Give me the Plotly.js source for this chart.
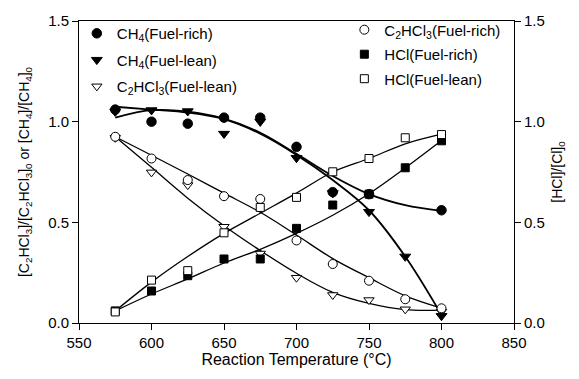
<!DOCTYPE html>
<html><head><meta charset="utf-8">
<script src="https://cdn.plot.ly/plotly-3.0.1.min.js"></script>
<style>html,body{margin:0;padding:0;background:#fff}</style>
</head><body><div id="chart" style="width:579px;height:379px"></div>
<script>
// Measured points
const temps = [575, 600, 625, 650, 675, 700, 725, 750, 775, 800];
const ch4Rich = [1.06, 1.00, 0.99, 1.02, 1.02, 0.875, 0.65, 0.64, null, 0.56];
const ch4Lean = [1.05, 1.057, 1.052, 0.94, 1.0, 0.82, 0.645, 0.552, 0.33, 0.035];
const c2Rich = [0.925, 0.817, 0.71, 0.63, 0.616, 0.41, 0.293, 0.21, 0.118, 0.073];
const c2Lean = [0.92, 0.748, 0.685, 0.478, 0.345, 0.225, 0.139, 0.114, 0.068, 0.056];
const hclRich = [0.06, 0.159, 0.235, 0.318, 0.318, 0.47, 0.586, 0.64, 0.771, 0.905];
const hclLean = [0.055, 0.213, 0.26, 0.448, 0.574, 0.624, 0.751, 0.817, 0.92, 0.936];

// Fitted curves
const fitTemps = [575, 600, 625, 650, 675, 700, 725, 750, 775, 800];
const ch4RichFit = [1.02, 1.057, 1.05, 1.015, 0.945, 0.84, 0.73, 0.64, 0.585, 0.557];
const ch4LeanFit = [1.074, 1.06, 1.045, 1.012, 0.94, 0.835, 0.71, 0.56, 0.33, 0.04];
const c2RichFit = [0.925, 0.833, 0.74, 0.645, 0.55, 0.437, 0.32, 0.225, 0.135, 0.074];
const c2LeanFit = [0.925, 0.773, 0.62, 0.483, 0.36, 0.247, 0.152, 0.097, 0.066, 0.064];
const hclRichFit = [0.06, 0.144, 0.219, 0.298, 0.366, 0.445, 0.535, 0.642, 0.77, 0.906];
const hclLeanFit = [0.06, 0.203, 0.33, 0.445, 0.545, 0.645, 0.75, 0.817, 0.89, 0.938];

// Labels
const xTicks = [550, 600, 650, 700, 750, 800, 850];
const yTicks = [0, 0.5, 1.0, 1.5];
const names = {
  ch4Rich: 'CH<sub>4</sub>(Fuel-rich)',
  ch4Lean: 'CH<sub>4</sub>(Fuel-lean)',
  c2Lean: 'C<sub>2</sub>HCl<sub>3</sub>(Fuel-lean)',
  c2Rich: 'C<sub>2</sub>HCl<sub>3</sub>(Fuel-rich)',
  hclRich: 'HCl(Fuel-rich)',
  hclLean: 'HCl(Fuel-lean)'
};

function fit(y, w, yaxis) {
  return {x: fitTemps, y: y, mode: 'lines', yaxis: yaxis || 'y',
    line: {color: 'black', width: w, shape: 'spline', smoothing: 1},
    showlegend: false, hoverinfo: 'skip'};
}
function pts(y, name, symbol, fill, size, legend, yaxis) {
  return {x: temps, y: y, mode: 'markers', name: name, yaxis: yaxis || 'y',
    legend: legend, legendgroup: name,
    marker: {symbol: symbol, size: size, color: fill, line: {color: 'black', width: 1}}};
}

const data = [
  fit(ch4RichFit, 1.8), fit(ch4LeanFit, 1.8), fit(c2RichFit, 1.3), fit(c2LeanFit, 1.3),
  fit(hclRichFit, 1.3, 'y2'), fit(hclLeanFit, 1.3, 'y2'),
  pts(hclRich, names.hclRich, 'square', 'black', 8, 'legend2', 'y2'),
  pts(hclLean, names.hclLean, 'square', 'white', 8, 'legend2', 'y2'),
  pts(c2Lean, names.c2Lean, 'triangle-down', 'white', 9, 'legend'),
  pts(c2Rich, names.c2Rich, 'circle', 'white', 9, 'legend2'),
  pts(ch4Lean, names.ch4Lean, 'triangle-down', 'black', 9.5, 'legend'),
  pts(ch4Rich, names.ch4Rich, 'circle', 'black', 9.5, 'legend')
];
// legend order via legendrank
data[11].legendrank = 1; data[10].legendrank = 2; data[8].legendrank = 3;
data[9].legendrank = 1; data[6].legendrank = 2; data[7].legendrank = 3;

const axisCommon = {showgrid: false, zeroline: false, showline: true, linecolor: 'black',
  linewidth: 1, ticks: 'outside', ticklen: 6, tickcolor: 'black',
  tickfont: {size: 15, color: 'black'}};

const layout = {
  width: 579, height: 379,
  margin: {l: 79, r: 65, t: 21, b: 56},
  paper_bgcolor: 'white', plot_bgcolor: 'white',
  font: {family: 'Liberation Sans, Arial, sans-serif', size: 15, color: 'black'},
  xaxis: Object.assign({}, axisCommon, {range: [550, 850], tickvals: xTicks, mirror: true,
    title: {text: 'Reaction Temperature (°C)', font: {size: 16}, standoff: 2}}),
  yaxis: Object.assign({}, axisCommon, {range: [0, 1.5], tickvals: yTicks, tickformat: '.1f',
    title: {text: '[C<sub>2</sub>HCl<sub>3</sub>]/[C<sub>2</sub>HCl<sub>3</sub>]<sub>0</sub> or [CH<sub>4</sub>]/[CH<sub>4</sub>]<sub>0</sub>', font: {size: 14}, standoff: 15}}),
  yaxis2: Object.assign({}, axisCommon, {range: [0, 1.5], tickvals: yTicks, tickformat: '.1f',
    overlaying: 'y', side: 'right',
    title: {text: '[HCl]/[Cl]<sub>0</sub>', font: {size: 14}, standoff: 8}}),
  legend: {x: -0.005, y: 1.013, xanchor: 'left', yanchor: 'top', bgcolor: 'rgba(0,0,0,0)',
    font: {size: 15}, traceorder: 'grouped', tracegroupgap: 4},
  legend2: {x: 0.61, y: 1.025, xanchor: 'left', yanchor: 'top', bgcolor: 'rgba(0,0,0,0)',
    font: {size: 15}, traceorder: 'grouped', tracegroupgap: 2},
  showlegend: true
};

Plotly.newPlot('chart', data, layout, {displayModeBar: false, staticPlot: true});
</script></body></html>
